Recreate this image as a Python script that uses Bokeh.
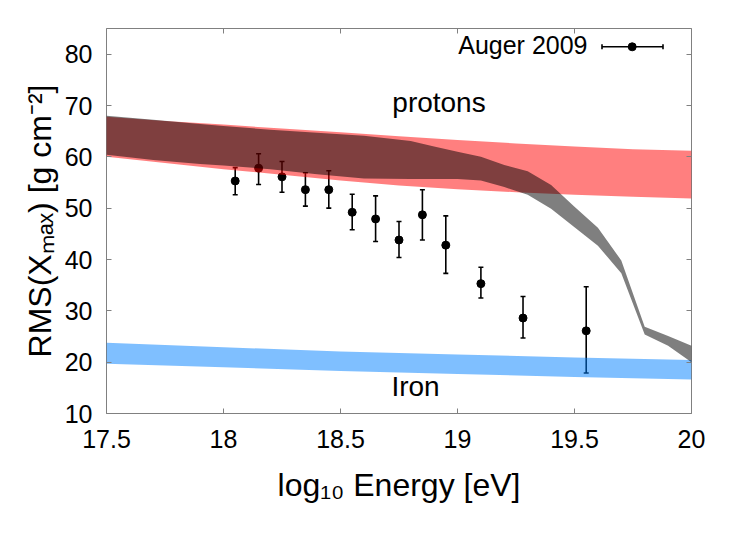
import math
from bokeh.plotting import figure
from bokeh.models import LinearAxis, Label, FixedTicker, Range1d, ColumnDataSource
from bokeh.embed import file_html
from bokeh.resources import INLINE

# ---------------- data ----------------
x_ticks = [17.5, 18.0, 18.5, 19.0, 19.5, 20.0]
x_tick_labels = ["17.5", "18", "18.5", "19", "19.5", "20"]
y_ticks = [10, 20, 30, 40, 50, 60, 70, 80]
y_tick_labels = ["10", "20", "30", "40", "50", "60", "70", "80"]

# Auger 2009 measurements
energy = [18.05, 18.15, 18.25, 18.35, 18.45, 18.55, 18.65, 18.75, 18.85, 18.95, 19.10, 19.28, 19.55]
rms = [55.3, 57.8, 56.1, 53.6, 53.6, 49.2, 47.9, 43.8, 48.7, 42.8, 35.3, 28.6, 26.1]
rms_hi = [57.9, 60.6, 59.1, 56.9, 57.3, 52.7, 52.4, 47.4, 53.6, 48.5, 38.5, 32.8, 34.7]
rms_lo = [52.6, 54.6, 53.1, 50.4, 50.0, 45.8, 43.5, 40.4, 43.8, 37.3, 32.5, 24.7, 17.9]

# protons band
p_energy = [17.5, 17.75, 18.0, 18.25, 18.5, 18.75, 19.0, 19.25, 19.5, 19.75, 20.0]
p_top = [67.8, 67.0, 66.3, 65.5, 64.8, 64.0, 63.3, 62.6, 62.0, 61.5, 61.2]
p_bot = [60.0, 58.8, 57.6, 56.5, 55.4, 54.4, 53.7, 53.1, 52.6, 52.2, 51.9]

# iron band
fe_energy = [17.5, 18.0, 18.5, 19.0, 19.5, 20.0]
fe_top = [23.8, 22.9, 22.1, 21.5, 20.9, 20.4]
fe_bot = [19.7, 19.0, 18.3, 17.7, 17.1, 16.6]

# model (mixed composition) band
m_energy = [17.5, 17.7, 17.9, 18.0, 18.2, 18.4, 18.6, 18.8, 18.9, 19.0, 19.1, 19.2, 19.3,
            19.4, 19.5, 19.6, 19.7, 19.8, 19.9, 20.0]
m_top = [68.0, 67.2, 66.4, 66.0, 65.3, 64.7, 64.1, 63.1, 62.0, 61.0, 60.0, 58.4, 57.2,
         54.5, 50.3, 46.2, 39.8, 26.9, 25.1, 23.2]
m_bot = [60.4, 59.4, 58.6, 58.3, 57.6, 56.6, 55.8, 55.7, 55.7, 55.7, 55.4, 54.1, 52.6,
         49.9, 46.3, 42.7, 37.3, 25.4, 23.2, 20.0]

x_title = "log\u2081\u2080 Energy [eV]"
y_title = "RMS(X\u2098\u2090\u2093) [g cm\u207b\u00b2]"

# ---------------- layout (pixels) ----------------
X0, X1, Y0, Y1 = 17.5, 20.0, 10.0, 85.0
FW, FH = 585, 385
BL, BR, BT, BB = 106, 40, 28, 111
FL, FT = BL, BT
TXT_DY = 9.5   # correction for label baseline placement


def dx(px):
    return X0 + (px - FL) / FW * (X1 - X0)


def dy(py):
    return Y0 + (FT + FH - py) / FH * (Y1 - Y0)


FONT = "Liberation Sans"
GRAY = "#808080"

p = figure(frame_width=FW, frame_height=FH, x_range=Range1d(X0, X1), y_range=Range1d(Y0, Y1),
           output_backend="svg", toolbar_location=None,
           min_border_left=BL, min_border_right=BR, min_border_top=BT, min_border_bottom=BB)
p.background_fill_color = "white"
p.border_fill_color = "white"
p.outline_line_color = GRAY
p.outline_line_width = 1
p.grid.visible = False

for ax, ticks, labels in ((p.xaxis[0], x_ticks, x_tick_labels), (p.yaxis[0], y_ticks, y_tick_labels)):
    ax.ticker = FixedTicker(ticks=ticks)
    ax.major_label_overrides = {t: l for t, l in zip(ticks, labels)}
    ax.axis_line_color = None
    ax.major_tick_in = 5
    ax.major_tick_out = 0
    ax.major_tick_line_color = GRAY
    ax.minor_tick_line_color = None
    ax.major_label_text_font = FONT
    ax.major_label_text_font_size = "25px"
    ax.major_label_text_color = "black"
    ax.axis_label_text_font = FONT
    ax.axis_label_text_font_size = "32px"
    ax.axis_label_text_font_style = "normal"
    ax.axis_label_text_color = "black"
p.xaxis.major_label_standoff = 16
p.yaxis.major_label_standoff = 14
p.xaxis.axis_label = x_title
p.yaxis.axis_label = y_title
p.xaxis.axis_label_standoff = 16
p.yaxis.axis_label_standoff = 4

top = LinearAxis(ticker=FixedTicker(ticks=x_ticks), major_label_overrides={t: "" for t in x_ticks},
                 major_label_text_font_size="1px",
                 axis_line_color=None, major_tick_in=5, major_tick_out=0,
                 major_tick_line_color=GRAY, minor_tick_line_color=None, major_label_standoff=0)
right = LinearAxis(ticker=FixedTicker(ticks=y_ticks), major_label_overrides={t: "" for t in y_ticks},
                   major_label_text_font_size="1px",
                   axis_line_color=None, major_tick_in=5, major_tick_out=0,
                   major_tick_line_color=GRAY, minor_tick_line_color=None, major_label_standoff=0)
p.add_layout(top, "above")
p.add_layout(right, "right")

# ---------------- data marks (points drawn under the bands) ----------------
src = ColumnDataSource(dict(x=energy, y=rms, hi=rms_hi, lo=rms_lo))
p.segment(x0="x", y0="lo", x1="x", y1="hi", source=src, line_color="black", line_width=1.6)
p.scatter(x="x", y="hi", source=src, marker="dash", size=5, line_color="black", line_width=1.6)
p.scatter(x="x", y="lo", source=src, marker="dash", size=5, line_color="black", line_width=1.6)
p.scatter(x="x", y="y", source=src, marker="circle", size=8, fill_color="black", line_color="black")

p.varea(x=p_energy, y1=p_bot, y2=p_top, fill_color="#ff0000", fill_alpha=0.5)
p.varea(x=fe_energy, y1=fe_bot, y2=fe_top, fill_color="#0080ff", fill_alpha=0.5)
p.varea(x=m_energy, y1=m_bot, y2=m_top, fill_color="#000000", fill_alpha=0.5)

# ---------------- in-plot texts ----------------
p.add_layout(Label(x=dx(438.5), y=dy(111.7 - TXT_DY), text="protons", text_font=FONT, text_font_size="28px",
                   text_align="center", text_baseline="alphabetic", text_color="black"))
p.add_layout(Label(x=dx(415), y=dy(395.5 - TXT_DY), text="Iron", text_font=FONT, text_font_size="28px",
                   text_align="center", text_baseline="alphabetic", text_color="black"))

# legend key
p.add_layout(Label(x=dx(587), y=dy(53.5 - TXT_DY), text="Auger 2009", text_font=FONT, text_font_size="25px",
                   text_align="right", text_baseline="alphabetic", text_color="black"))
leg = ColumnDataSource(dict(x0=[dx(601.5)], x1=[dx(662.5)], xc=[dx(631.7)], y=[dy(46.3)]))
p.segment(x0="x0", y0="y", x1="x1", y1="y", source=leg, line_color="black", line_width=1.6)
p.scatter(x="x0", y="y", source=leg, marker="dash", angle=math.pi / 2, size=5, line_color="black", line_width=1.6)
p.scatter(x="x1", y="y", source=leg, marker="dash", angle=math.pi / 2, size=5, line_color="black", line_width=1.6)
p.scatter(x="xc", y="y", source=leg, marker="circle", size=8, fill_color="black", line_color="black")

open("out.html", "w").write(file_html(p, INLINE))
